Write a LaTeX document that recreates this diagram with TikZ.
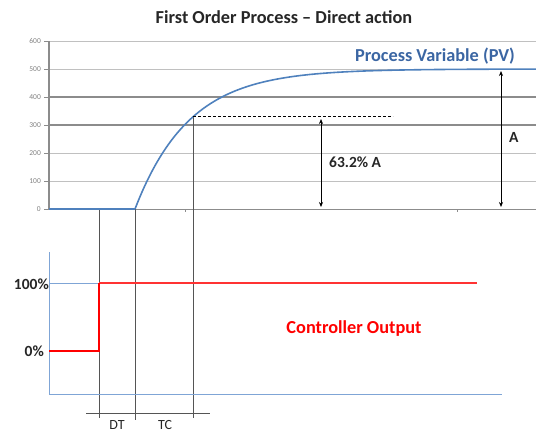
\documentclass[tikz,border=0pt]{standalone}
\usepackage{fontspec}
\setmainfont{Carlito}
\usetikzlibrary{arrows.meta}
\definecolor{pvblue}{HTML}{4F81BD}
\definecolor{pvtext}{HTML}{3B66A3}
\definecolor{lblue}{HTML}{7FA5D6}
\definecolor{gridl}{HTML}{C0C0C0}
\definecolor{gridd}{HTML}{8C8C8C}
\definecolor{vline}{HTML}{555555}
\definecolor{cored}{HTML}{FF0000}
\tikzset{
  gridlight/.style={draw=gridl, line width=0.9pt},
  griddark/.style={draw=gridd, line width=1.3pt},
  ticklbl/.style={font=\fontsize{7.5}{8}\selectfont, text=gray, anchor=east, inner sep=1pt},
  vmark/.style={draw=vline, line width=0.9pt},
  dimarrow/.style={draw=black, line width=0.7pt, {Stealth[length=5pt,width=4pt]}-{Stealth[length=5pt,width=4pt]}},
  boldlbl/.style={font=\fontsize{15.5}{17}\selectfont\bfseries, text=black!85, inner sep=0pt},
  biglbl/.style={font=\fontsize{18.3}{20}\selectfont\bfseries, inner sep=0pt},
  timelbl/.style={font=\fontsize{14}{15}\selectfont, text=black!85, inner sep=0pt, anchor=base},
}
\begin{document}
\begin{tikzpicture}[x=1pt,y=-1pt]
\useasboundingbox (0,0) rectangle (536,434);
% title
\node[biglbl, text=black!85] (title) at (284,17) {First Order Process -- Direct action};
% gridlines
\foreach \v/\yy/\st in {600/41/gridlight,500/69/gridlight,400/97/griddark,300/125/griddark,200/153/gridlight,100/181/gridlight} {
  \draw[\st] (49,\yy) -- (536,\yy);
  \draw[draw=gridd, line width=0.8pt] (44,\yy) -- (49,\yy);
  \node[ticklbl] (t\v) at (42,\yy) {\v};
}
\draw[gridd, line width=0.9pt] (49,209) -- (536,209);
\draw[draw=gridd, line width=0.8pt] (44,209) -- (49,209);
\node[ticklbl] (t0) at (42,209) {0};
\draw[draw=gridd, line width=0.8pt] (185,209) -- (185,212);
\draw[draw=gridd, line width=0.8pt] (457,209) -- (457,212);
% y axis
\draw[draw=gridd, line width=1.3pt] (49,41) -- (49,209);
% coordinates
\coordinate (o) at (49,209);
\coordinate (dts) at (99,209);
\coordinate (tcs) at (135,209);
\coordinate (tce) at (193,{209-140*(1-exp(-58/54))});
\coordinate (dte) at (99,418);
\coordinate (tcse) at (135,420);
\coordinate (tcee) at (193,418);
\coordinate (dash) at (393,{209-140*(1-exp(-58/54))});
% vertical markers
\draw[vmark] (dts) -- (dte);
\draw[vmark] (tcs) -- (tcse);
\draw[vmark] (tce) -- (tcee);
% process variable curve
\draw[pvblue, line width=1.6pt] (o) -- (tcs);
\draw[pvblue, line width=1.6pt] plot[domain=0:401, samples=120, smooth] ({135+\x},{209-140*(1-exp(-\x/54))});
% dashed line
\draw[black, line width=0.7pt, dash pattern=on 3pt off 2pt] (tce) -- (dash);
% dimension arrows
\coordinate (a1t) at (321,119);
\coordinate (a1b) at (321,207);
\draw[dimarrow] (a1t) -- (a1b);
\node[boldlbl, anchor=west] (pct) at (329,162) {63.2\% A};
\coordinate (a2t) at (501,71);
\coordinate (a2b) at (501,207);
\draw[dimarrow] (a2t) -- (a2b);
\node[boldlbl, anchor=west] (alab) at (509,137) {A};
\node[biglbl, text=pvtext] (pvlab) at (435,56) {Process Variable (PV)};
% controller output chart
\coordinate (ct) at (49,252);
\coordinate (cb) at (49,394);
\coordinate (cbr) at (502,394);
\coordinate (c100) at (49,283);
\coordinate (s100) at (99,283);
\coordinate (c0) at (49,351);
\coordinate (s0) at (99,351);
\coordinate (r100) at (477,283);
\draw[lblue, line width=1pt] (ct) -- (cb) -- (cbr);
\draw[lblue, line width=1pt] (c100) -- (s100);
\draw[cored!80, line width=1.1pt] (s100) -- (r100);
\draw[cored, line width=1.8pt] (c0) -- (s0) -- (s100);
\node[boldlbl, anchor=east] (l100) at (49,284) {100\%};
\node[boldlbl, anchor=east] (l0) at (44,351) {0\%};
\node[biglbl, text=cored] (colab) at (354,329) {Controller Output};
% time axis
\coordinate (ta) at (86,413);
\coordinate (tb) at (210,413);
\draw[vmark] (ta) -- (tb);
\node[timelbl] (dt) at (117,429) {DT};
\node[timelbl] (tc) at (165,429) {TC};
\end{tikzpicture}
\end{document}
